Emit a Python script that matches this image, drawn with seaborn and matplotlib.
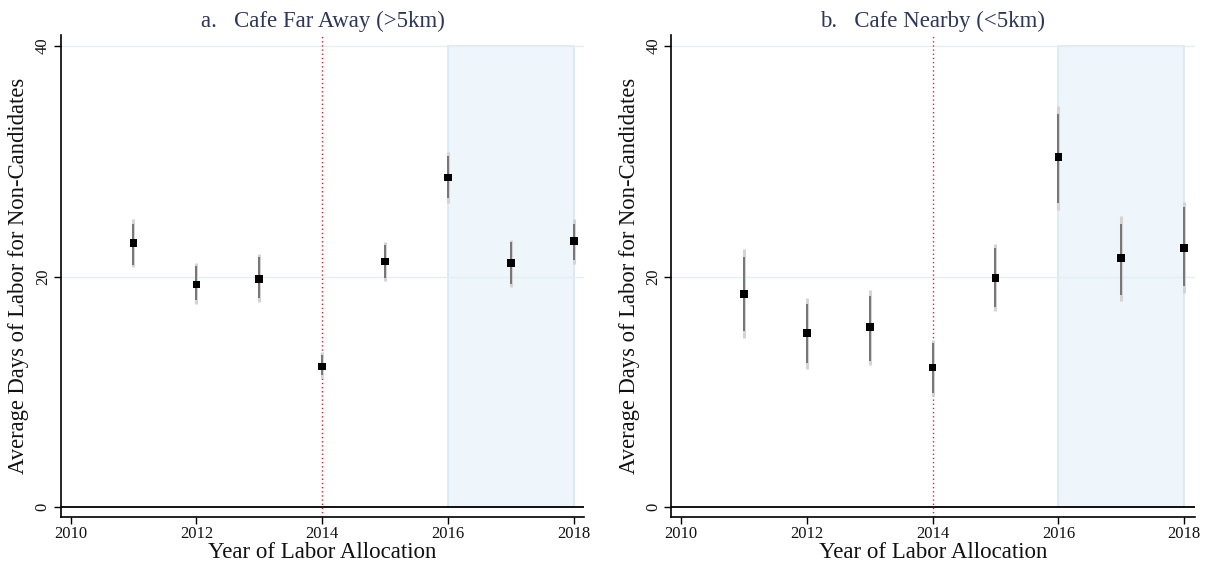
import numpy as np
import pandas as pd
import matplotlib
matplotlib.use("Agg")
import matplotlib.pyplot as plt
import seaborn as sns

# ---- data ----
years = [2011, 2012, 2013, 2014, 2015, 2016, 2017, 2018]

far_mean = [22.9, 19.3, 19.8, 12.2, 21.3, 28.6, 21.2, 23.1]
far_lo90 = [21.0, 18.0, 18.1, 11.5, 19.9, 26.8, 19.4, 21.4]
far_hi90 = [24.6, 20.9, 21.7, 13.2, 22.7, 30.5, 23.0, 24.6]
far_lo95 = [20.8, 17.6, 17.8, 11.2, 19.6, 26.4, 19.1, 21.1]
far_hi95 = [25.0, 21.2, 22.0, 13.5, 23.0, 30.8, 23.2, 25.0]

near_mean = [18.5, 15.1, 15.6, 12.1, 19.9, 30.4, 21.6, 22.5]
near_lo90 = [15.3, 12.5, 12.7, 9.9, 17.4, 26.4, 18.4, 19.2]
near_hi90 = [21.7, 17.6, 18.3, 14.2, 22.5, 34.1, 24.6, 26.0]
near_lo95 = [14.7, 12.0, 12.3, 9.6, 17.0, 25.8, 17.9, 18.6]
near_hi95 = [22.4, 18.1, 18.8, 14.5, 22.8, 34.8, 25.3, 26.5]

titles = ["a.   Cafe Far Away (>5km)", "b.   Cafe Nearby (<5km)"]
x_ticks = [2010, 2012, 2014, 2016, 2018]
y_ticks = [0, 20, 40]
event_year = 2014
shade_start, shade_end = 2016, 2018

panels = [
    (far_mean, far_lo90, far_hi90, far_lo95, far_hi95),
    (near_mean, near_lo90, near_hi90, near_lo95, near_hi95),
]

sns.set_theme(style="white")
plt.rcParams["font.family"] = ["Liberation Serif", "DejaVu Serif"]

fig = plt.figure(figsize=(12.1, 5.67), dpi=100)
ax_pos = [[0.050, 0.089, 0.433, 0.849], [0.5545, 0.089, 0.433, 0.849]]
y_lo, y_hi = -0.82, 40.95

for i, (mean, lo90, hi90, lo95, hi95) in enumerate(panels):
    ax = fig.add_axes(ax_pos[i])
    df = pd.DataFrame({"year": years, "mean": mean,
                       "lo90": lo90, "hi90": hi90, "lo95": lo95, "hi95": hi95})

    # shaded post period and reference lines
    ax.axvspan(shade_start, shade_end, ymin=(0 - y_lo) / (y_hi - y_lo),
               ymax=(40 - y_lo) / (y_hi - y_lo),
               facecolor="#eef6fb", edgecolor="#d6e8f2", lw=1.2, zorder=0)
    for yv in [20, 40]:
        ax.axhline(yv, color="#e3eef4", lw=0.9, zorder=0.5)
    ax.axhline(0, color="black", lw=1.3, zorder=1)
    ax.axvline(event_year, color="#e8202a", lw=1.0, ls=(0, (1, 2)), zorder=1)

    # confidence intervals: outer light, inner dark
    ax.vlines(df["year"], df["lo95"], df["hi95"], color="#d4d4d4", lw=2.2, zorder=2)
    ax.vlines(df["year"], df["lo90"], df["hi90"], color="#6e6e6e", lw=1.3, zorder=3)

    sns.scatterplot(data=df, x="year", y="mean", marker="s", s=30,
                    color="black", edgecolor="none", ax=ax, zorder=4)

    ax.set_xlim(2009.84, 2018.17)
    ax.set_ylim(y_lo, y_hi)
    ax.set_xticks(x_ticks)
    ax.set_yticks(y_ticks)
    ax.set_yticklabels([str(v) for v in y_ticks], rotation=90, va="center")
    ax.tick_params(axis="both", which="both", direction="out", length=5,
                   width=1, color="black", labelsize=12, labelcolor="#111111",
                   bottom=True, left=True)
    ax.tick_params(axis="x", pad=2)
    ax.tick_params(axis="y", pad=2)

    for side in ["top", "right"]:
        ax.spines[side].set_visible(False)
    for side in ["left", "bottom"]:
        ax.spines[side].set_color("black")
        ax.spines[side].set_linewidth(1.2)

    ax.set_xlabel("Year of Labor Allocation", fontsize=16.5, labelpad=0, color="#111111")
    ax.set_ylabel("Average Days of Labor for Non-Candidates", fontsize=16.3,
                  labelpad=4, color="#111111")
    ax.set_title(titles[i], fontsize=16.5, color="#2d3757", pad=6)

fig.savefig("out.png", dpi=100)
